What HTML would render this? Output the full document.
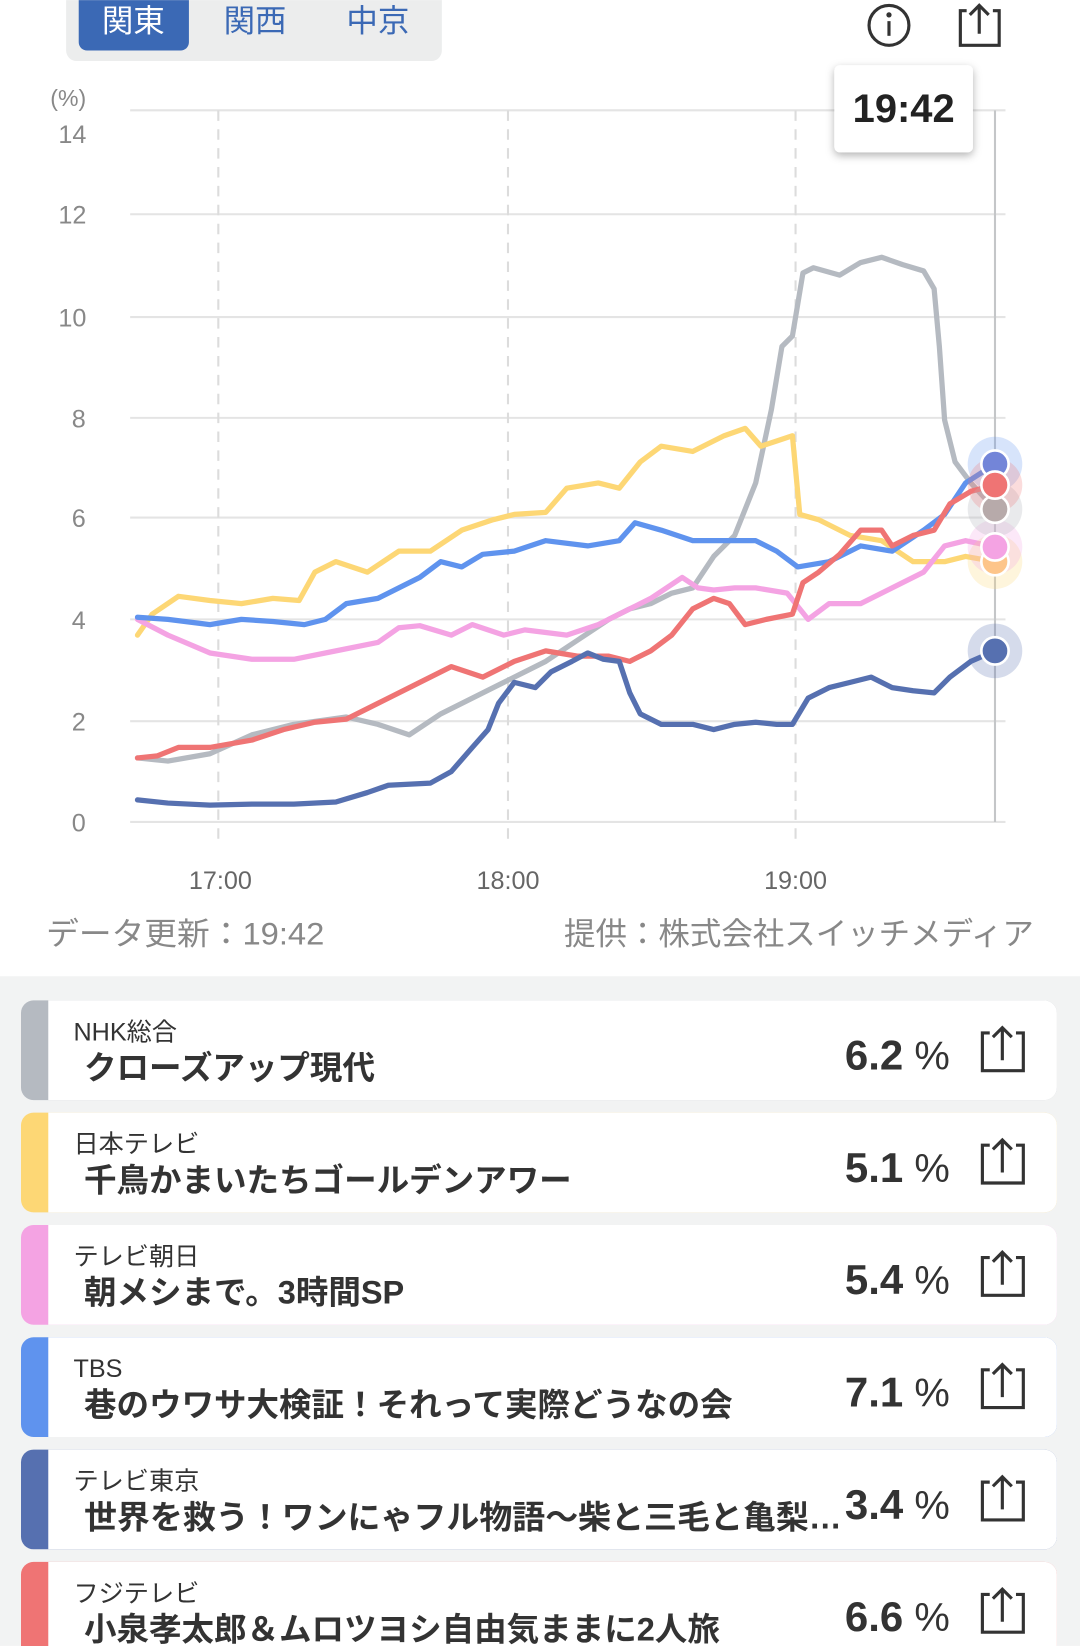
<!DOCTYPE html>
<html><head><meta charset="utf-8"><style>
html,body{margin:0;padding:0;background:#fff;width:1080px;height:1646px;overflow:hidden}
svg{display:block}
text{font-family:"Liberation Sans","Noto Sans CJK JP",sans-serif}
</style></head><body>
<svg width="1080" height="1646" viewBox="0 0 1029 1568" xmlns="http://www.w3.org/2000/svg">
<defs><filter id="sh" x="-20%" y="-20%" width="140%" height="150%"><feDropShadow dx="0" dy="3" stdDeviation="4" flood-color="#000" flood-opacity="0.3"/></filter></defs>
<path d="M63 0 H421 V48 a10 10 0 0 1 -10 10 H73 a10 10 0 0 1 -10 -10 Z" fill="#eceded"/>
<path d="M75 0 H180 V40 a8 8 0 0 1 -8 8 H83 a8 8 0 0 1 -8 -8 Z" fill="#3b69b5"/>
<text x="127" y="30" font-size="30" fill="#fff" text-anchor="middle">関東</text>
<text x="243" y="30" font-size="30" fill="#3b69b5" text-anchor="middle">関西</text>
<text x="360" y="30" font-size="30" fill="#3b69b5" text-anchor="middle">中京</text>
<circle cx="847" cy="24" r="19" fill="none" stroke="#333" stroke-width="3"/>
<circle cx="847" cy="14" r="2.5" fill="#333"/><rect x="845.5" y="20" width="3" height="14" fill="#333"/>
<path d="M921 10 H915 V43 H952 V10 H946" fill="none" stroke="#333" stroke-width="3"/>
<path d="M933 32 V5 M924 14 L933 5 L942 14" fill="none" stroke="#333" stroke-width="3"/>
<text x="65" y="101" font-size="22" fill="#888" text-anchor="middle">(%)</text>
<g font-size="24" fill="#888" text-anchor="middle">
<text x="69" y="136">14</text><text x="69" y="213">12</text><text x="69" y="311">10</text><text x="75" y="407">8</text><text x="75" y="502">6</text><text x="75" y="599">4</text><text x="75" y="696">2</text><text x="75" y="792">0</text>
</g>
<g stroke="#e4e4e4" stroke-width="2">
<line x1="124" y1="105" x2="958" y2="105"/><line x1="124" y1="204" x2="958" y2="204"/><line x1="124" y1="302" x2="958" y2="302"/><line x1="124" y1="398" x2="958" y2="398"/><line x1="124" y1="493" x2="958" y2="493"/><line x1="124" y1="590" x2="958" y2="590"/><line x1="124" y1="687" x2="958" y2="687"/><line x1="124" y1="783" x2="958" y2="783"/>
</g>
<g stroke="#dcdcdc" stroke-width="2" stroke-dasharray="10,8">
<line x1="208" y1="105" x2="208" y2="805"/><line x1="484" y1="105" x2="484" y2="805"/><line x1="758" y1="105" x2="758" y2="805"/>
</g>
<line x1="948" y1="105" x2="948" y2="783" stroke="#c4c6c8" stroke-width="2"/>
<g font-size="24" fill="#666" text-anchor="middle"><text x="210" y="847">17:00</text><text x="484" y="847">18:00</text><text x="758" y="847">19:00</text></g>
<g fill="none" stroke-width="5" stroke-linejoin="round" stroke-linecap="round">
<polyline stroke="#b5bac1" points="131,722 160,725 200,718 240,700 280,690 330,683 360,690 390,700 420,680 460,660 480,650 500,640 520,630 550,610 580,590 600,580 620,575 640,565 660,560 680,530 700,510 720,460 735,390 745,330 755,320 765,260 775,255 800,262 820,250 840,245 860,252 880,258 890,275 895,330 900,400 910,440 925,460 948,485"/>
<polyline stroke="#fdd775" points="131,605 145,585 170,568 200,572 230,575 260,570 285,572 300,545 320,535 350,545 380,525 410,525 440,505 470,495 490,490 520,488 540,465 570,460 590,465 610,440 630,425 660,430 690,415 710,408 725,425 740,420 755,415 762,490 780,495 810,510 840,515 870,535 900,535 920,530 948,535"/>
<polyline stroke="#f4a3e3" points="131,590 160,605 200,622 240,628 280,628 320,620 360,612 380,598 400,596 430,605 450,595 480,605 500,600 540,605 570,595 600,580 620,570 650,550 665,560 680,562 700,560 720,560 750,565 770,590 790,575 820,575 850,560 880,545 900,520 920,515 948,521"/>
<polyline stroke="#5f93ee" points="131,588 160,590 200,595 230,590 260,592 290,595 310,590 330,575 360,570 380,560 400,550 420,535 440,540 460,528 490,525 520,515 560,520 590,515 605,498 630,505 660,515 700,515 720,515 740,525 760,540 790,535 820,520 850,525 880,505 900,490 920,460 948,442"/>
<polyline stroke="#ef7474" points="131,722 150,720 170,712 200,712 240,705 270,695 300,688 330,685 360,670 390,655 410,645 430,635 460,645 490,630 520,620 550,625 580,625 600,630 620,620 640,605 660,580 680,570 695,575 710,595 730,590 755,585 765,555 780,545 800,528 820,505 840,505 850,520 870,510 890,505 905,480 925,468 948,462"/>
<polyline stroke="#5670b0" points="131,762 160,765 200,767 240,766 280,766 320,764 350,755 370,748 410,746 430,735 450,712 465,695 475,670 490,650 510,655 525,640 545,630 560,622 575,628 590,630 600,660 610,680 630,690 660,690 680,695 700,690 720,688 740,690 755,690 770,665 790,655 810,650 830,645 850,655 870,658 890,660 905,645 925,630 948,620"/>
</g>
<g>
<circle cx="948" cy="535" r="26" fill="#fdd775" opacity="0.25"/>
<circle cx="948" cy="521" r="26" fill="#f4a3e3" opacity="0.25"/>
<circle cx="948" cy="485" r="26" fill="#b5bac1" opacity="0.3"/>
<circle cx="948" cy="442" r="26" fill="#5f93ee" opacity="0.25"/>
<circle cx="948" cy="462" r="26" fill="#ef7474" opacity="0.25"/>
<circle cx="948" cy="620" r="26" fill="#5670b0" opacity="0.25"/>
<g stroke="#fff" stroke-width="2.5">
<circle cx="948" cy="535" r="13" fill="#fdc58a"/>
<circle cx="948" cy="485" r="13" fill="#b7aaaa"/>
<circle cx="948" cy="442" r="13" fill="#7385d8"/>
<circle cx="948" cy="521" r="13" fill="#f4a3e3"/>
<circle cx="948" cy="462" r="13" fill="#ef7474"/>
<circle cx="948" cy="620" r="13" fill="#5670b0"/>
</g></g>
<rect x="795" y="62" width="132" height="83" rx="5" fill="#fff" filter="url(#sh)"/>
<text x="861" y="116" font-size="38" font-weight="bold" fill="#222" text-anchor="middle">19:42</text>
<text x="44" y="900" font-size="30" fill="#888" textLength="265" lengthAdjust="spacingAndGlyphs">データ更新：19:42</text>
<text x="985" y="900" font-size="30" fill="#888" text-anchor="end">提供：株式会社スイッチメディア</text>
<rect x="0" y="930" width="1029" height="638" fill="#f2f3f3"/>
<g transform="translate(0,953)"><rect x="20" y="0" width="987" height="95" rx="12" fill="#b5bac1"/><path d="M46 0 H995 a12 12 0 0 1 12 12 V83 a12 12 0 0 1 -12 12 H46 Z" fill="#fff"/>
<text x="70" y="38" font-size="24" fill="#333">NHK総合</text><text x="80" y="75" font-size="31" font-weight="bold" fill="#333">クローズアップ現代</text>
<text x="805" y="66" font-size="40" font-weight="bold" fill="#333">6.2<tspan font-size="38" font-weight="normal"> %</tspan></text></g>
<g transform="translate(0,1060)"><rect x="20" y="0" width="987" height="95" rx="12" fill="#fdd775"/><path d="M46 0 H995 a12 12 0 0 1 12 12 V83 a12 12 0 0 1 -12 12 H46 Z" fill="#fff"/>
<text x="70" y="38" font-size="24" fill="#333">日本テレビ</text><text x="80" y="75" font-size="31" font-weight="bold" fill="#333">千鳥かまいたちゴールデンアワー</text>
<text x="805" y="66" font-size="40" font-weight="bold" fill="#333">5.1<tspan font-size="38" font-weight="normal"> %</tspan></text></g>
<g transform="translate(0,1167)"><rect x="20" y="0" width="987" height="95" rx="12" fill="#f4a3e3"/><path d="M46 0 H995 a12 12 0 0 1 12 12 V83 a12 12 0 0 1 -12 12 H46 Z" fill="#fff"/>
<text x="70" y="38" font-size="24" fill="#333">テレビ朝日</text><text x="80" y="75" font-size="31" font-weight="bold" fill="#333">朝メシまで。3時間SP</text>
<text x="805" y="66" font-size="40" font-weight="bold" fill="#333">5.4<tspan font-size="38" font-weight="normal"> %</tspan></text></g>
<g transform="translate(0,1274)"><rect x="20" y="0" width="987" height="95" rx="12" fill="#5f93ee"/><path d="M46 0 H995 a12 12 0 0 1 12 12 V83 a12 12 0 0 1 -12 12 H46 Z" fill="#fff"/>
<text x="70" y="38" font-size="24" fill="#333">TBS</text><text x="80" y="75" font-size="31" font-weight="bold" fill="#333">巷のウワサ大検証！それって実際どうなの会</text>
<text x="805" y="66" font-size="40" font-weight="bold" fill="#333">7.1<tspan font-size="38" font-weight="normal"> %</tspan></text></g>
<g transform="translate(0,1381)"><rect x="20" y="0" width="987" height="95" rx="12" fill="#5670b0"/><path d="M46 0 H995 a12 12 0 0 1 12 12 V83 a12 12 0 0 1 -12 12 H46 Z" fill="#fff"/>
<text x="70" y="38" font-size="24" fill="#333">テレビ東京</text><text x="80" y="75" font-size="31" font-weight="bold" fill="#333" textLength="722" lengthAdjust="spacingAndGlyphs">世界を救う！ワンにゃフル物語～柴と三毛と亀梨…</text>
<text x="805" y="66" font-size="40" font-weight="bold" fill="#333">3.4<tspan font-size="38" font-weight="normal"> %</tspan></text></g>
<g transform="translate(0,1488)"><rect x="20" y="0" width="987" height="95" rx="12" fill="#ef7474"/><path d="M46 0 H995 a12 12 0 0 1 12 12 V83 a12 12 0 0 1 -12 12 H46 Z" fill="#fff"/>
<text x="70" y="38" font-size="24" fill="#333">フジテレビ</text><text x="80" y="75" font-size="31" font-weight="bold" fill="#333">小泉孝太郎＆ムロツヨシ自由気ままに2人旅</text>
<text x="805" y="66" font-size="40" font-weight="bold" fill="#333">6.6<tspan font-size="38" font-weight="normal"> %</tspan></text></g>
<g fill="none" stroke="#333" stroke-width="3">
<path d="M943 984 H936 V1020 H975 V984 H968 M955 1010 V979 M946 988 L955 979 L964 988"/>
<path d="M943 1091 H936 V1127 H975 V1091 H968 M955 1117 V1086 M946 1095 L955 1086 L964 1095"/>
<path d="M943 1198 H936 V1234 H975 V1198 H968 M955 1224 V1193 M946 1202 L955 1193 L964 1202"/>
<path d="M943 1305 H936 V1341 H975 V1305 H968 M955 1331 V1300 M946 1309 L955 1300 L964 1309"/>
<path d="M943 1412 H936 V1448 H975 V1412 H968 M955 1438 V1407 M946 1416 L955 1407 L964 1416"/>
<path d="M943 1519 H936 V1555 H975 V1519 H968 M955 1545 V1514 M946 1523 L955 1514 L964 1523"/>
</g>
</svg>
</body></html>
